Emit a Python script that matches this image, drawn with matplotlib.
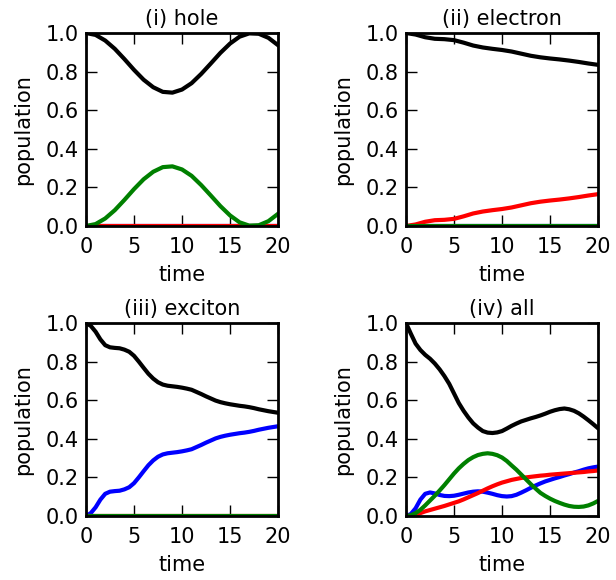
import numpy as np
import matplotlib.pyplot as plt

# time axes: every 1 unit for (i)/(ii), every 0.5 for (iii)/(iv)
time = list(range(21))
time_fine = [i * 0.5 for i in range(41)]

# (i) hole
hole_black = [1.000, 0.990, 0.961, 0.918, 0.865, 0.809, 0.758, 0.719, 0.695, 0.691,
              0.707, 0.740, 0.788, 0.842, 0.897, 0.945, 0.981, 0.998, 0.996, 0.975, 0.937]
hole_green = [0.000, 0.010, 0.039, 0.082, 0.135, 0.191, 0.242, 0.281, 0.305, 0.309,
              0.293, 0.260, 0.212, 0.158, 0.103, 0.055, 0.019, 0.002, 0.004, 0.025, 0.063]
hole_red = [0.0] * 21
hole_blue = [0.0] * 21

# (ii) electron
elec_black = [1.000, 0.992, 0.978, 0.970, 0.968, 0.963, 0.950, 0.935, 0.925, 0.918,
              0.912, 0.904, 0.893, 0.882, 0.874, 0.868, 0.863, 0.857, 0.850, 0.842, 0.835]
elec_red = [0.000, 0.008, 0.022, 0.030, 0.032, 0.037, 0.050, 0.065, 0.075, 0.082,
            0.088, 0.096, 0.107, 0.118, 0.126, 0.132, 0.137, 0.143, 0.150, 0.158, 0.165]
elec_green = [0.0] * 21
elec_blue = [0.0] * 21

# (iii) exciton
exc_black = [1.000, 0.985, 0.955, 0.915, 0.885, 0.874, 0.871, 0.869, 0.862, 0.851,
             0.830, 0.800, 0.768, 0.737, 0.712, 0.693, 0.681, 0.675, 0.672, 0.669,
             0.665, 0.660, 0.654, 0.643, 0.632, 0.620, 0.609, 0.598, 0.590, 0.584,
             0.579, 0.575, 0.571, 0.568, 0.564, 0.559, 0.553, 0.548, 0.543, 0.539, 0.535]
exc_blue = [0.000, 0.015, 0.045, 0.085, 0.115, 0.126, 0.129, 0.131, 0.138, 0.149,
            0.170, 0.200, 0.232, 0.263, 0.288, 0.307, 0.319, 0.325, 0.328, 0.331,
            0.335, 0.340, 0.346, 0.357, 0.368, 0.380, 0.391, 0.402, 0.410, 0.416,
            0.421, 0.425, 0.429, 0.432, 0.436, 0.441, 0.447, 0.452, 0.457, 0.461, 0.465]
exc_green = [0.0] * 41
exc_red = [0.0] * 41

# (iv) all
all_black = [1.000, 0.945, 0.893, 0.860, 0.835, 0.815, 0.790, 0.760, 0.725, 0.685,
             0.635, 0.585, 0.545, 0.510, 0.480, 0.458, 0.440, 0.432, 0.430, 0.433,
             0.440, 0.453, 0.467, 0.479, 0.490, 0.498, 0.506, 0.513, 0.521, 0.530,
             0.540, 0.548, 0.554, 0.557, 0.553, 0.545, 0.532, 0.515, 0.496, 0.476, 0.455]
all_green = [0.000, 0.004, 0.015, 0.032, 0.055, 0.080, 0.105, 0.132, 0.160, 0.190,
             0.220, 0.247, 0.270, 0.290, 0.305, 0.316, 0.322, 0.325, 0.322, 0.315,
             0.303, 0.285, 0.262, 0.240, 0.215, 0.190, 0.165, 0.142, 0.120, 0.104,
             0.090, 0.078, 0.068, 0.059, 0.052, 0.048, 0.047, 0.049, 0.055, 0.065, 0.078]
all_red = [0.000, 0.001, 0.006, 0.015, 0.024, 0.031, 0.038, 0.045, 0.052, 0.060,
           0.068, 0.076, 0.086, 0.097, 0.108, 0.119, 0.131, 0.143, 0.154, 0.164,
           0.173, 0.180, 0.187, 0.192, 0.197, 0.200, 0.203, 0.206, 0.209, 0.211,
           0.214, 0.216, 0.218, 0.220, 0.222, 0.224, 0.226, 0.228, 0.231, 0.233, 0.236]
all_blue = [0.000, 0.010, 0.040, 0.085, 0.115, 0.122, 0.117, 0.109, 0.104, 0.103,
            0.105, 0.110, 0.116, 0.122, 0.126, 0.128, 0.126, 0.121, 0.115, 0.108,
            0.103, 0.101, 0.103, 0.110, 0.121, 0.133, 0.146, 0.158, 0.169, 0.179,
            0.187, 0.195, 0.202, 0.210, 0.217, 0.225, 0.232, 0.240, 0.247, 0.252, 0.256]

titles = ['(i) hole', '(ii) electron', '(iii) exciton', '(iv) all']
panels = [
    (time, hole_black, hole_blue, hole_red, hole_green),
    (time, elec_black, elec_blue, elec_red, elec_green),
    (time_fine, exc_black, exc_blue, exc_red, exc_green),
    (time_fine, all_black, all_blue, all_red, all_green),
]

plt.rcParams['font.family'] = 'DejaVu Sans'
plt.rcParams['font.size'] = 15

fig = plt.figure(figsize=(6.16, 5.8), dpi=100)
boxes = [
    [86 / 616, 1 - 226 / 580, 192 / 616, 193 / 580],
    [406 / 616, 1 - 226 / 580, 192 / 616, 193 / 580],
    [86 / 616, 1 - 516 / 580, 192 / 616, 193 / 580],
    [406 / 616, 1 - 516 / 580, 192 / 616, 193 / 580],
]

for box, title, (t, k, b, r, g) in zip(boxes, titles, panels):
    ax = fig.add_axes(box)
    ax.plot(t, k, color='black', lw=3)
    ax.plot(t, b, color='blue', lw=3)
    ax.plot(t, r, color='red', lw=3)
    ax.plot(t, g, color='green', lw=3)
    ax.set_xlim(0, 20)
    ax.set_ylim(0, 1)
    ax.set_xticks([0, 5, 10, 15, 20])
    ax.set_yticks(np.arange(0, 1.01, 0.2))
    ax.set_yticklabels(['0.0', '0.2', '0.4', '0.6', '0.8', '1.0'])
    ax.tick_params(direction='in', top=True, right=True, length=8, width=1)
    ax.tick_params(axis='x', pad=8)
    ax.tick_params(axis='y', pad=5)
    for s in ax.spines.values():
        s.set_linewidth(2)
    ax.set_xlabel('time', labelpad=6)
    ax.set_ylabel('population', labelpad=9)
    ax.set_title(title, fontsize=15)

fig.savefig('out.png', dpi=100)
